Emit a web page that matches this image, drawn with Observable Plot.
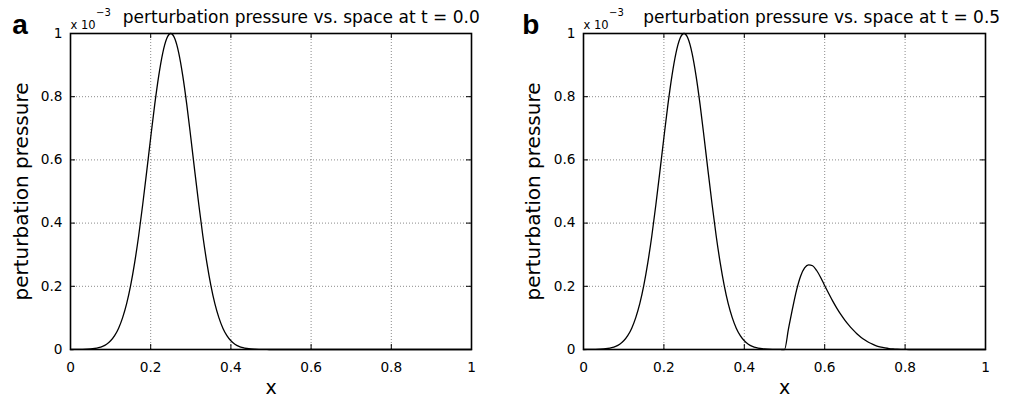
<!DOCTYPE html>
<html>
<head>
<meta charset="utf-8">
<script src="https://cdn.jsdelivr.net/npm/d3@7"></script>
<script src="https://cdn.jsdelivr.net/npm/@observablehq/plot@0.6"></script>
<style>
  html, body { margin: 0; padding: 0; background: #fff; }
  #wrap { position: relative; width: 1011px; height: 405px; overflow: hidden; }
  #wrap svg { position: absolute; top: 0; overflow: visible; }
</style>
</head>
<body>
<div id="wrap"></div>
<script>
// ---- data (perturbation pressure, units of 1e-3) ----
const xPos = [0,0.01,0.02,0.03,0.04,0.05,0.06,0.07,0.08,0.09,0.10,0.11,0.12,0.13,0.14,0.15,0.16,0.17,0.18,0.19,0.20,
  0.21,0.22,0.23,0.24,0.25,0.26,0.27,0.28,0.29,0.30,0.31,0.32,0.33,0.34,0.35,0.36,0.37,0.38,0.39,0.40,
  0.41,0.42,0.43,0.44,0.45,0.46,0.47,0.48,0.49,0.50,0.51,0.52,0.53,0.54,0.55,0.56,0.57,0.58,0.59,0.60,
  0.61,0.62,0.63,0.64,0.65,0.66,0.67,0.68,0.69,0.70,0.71,0.72,0.73,0.74,0.75,0.76,0.77,0.78,0.79,0.80,
  0.81,0.82,0.83,0.84,0.85,0.86,0.87,0.88,0.89,0.90,0.91,0.92,0.93,0.94,0.95,0.96,0.97,0.98,0.99,1.00];

const pressureT00 = [0,0.0001,0.0002,0.0004,0.0009,0.0017,0.0032,0.0057,0.0100,0.0169,0.0276,0.0439,0.0675,0.101,0.145,0.203,0.275,0.360,0.458,0.563,0.671,
  0.775,0.866,0.938,0.984,1.000,0.984,0.938,0.866,0.775,0.671,0.563,0.458,0.360,0.275,0.203,0.145,0.101,0.0675,0.0439,0.0276,
  0.0169,0.0100,0.0057,0.0032,0.0017,0.0009,0.0004,0.0002,0.0001,0,0,0,0,0,0,0,0,0,0,0,
  0,0,0,0,0,0,0,0,0,0,0,0,0,0,0,0,0,0,0,0,
  0,0,0,0,0,0,0,0,0,0,0,0,0,0,0,0,0,0,0,0];

const pressureT05 = [0,0.0001,0.0002,0.0004,0.0009,0.0017,0.0032,0.0057,0.0100,0.0169,0.0276,0.0439,0.0675,0.101,0.145,0.203,0.275,0.360,0.458,0.563,0.671,
  0.775,0.866,0.938,0.984,1.000,0.984,0.938,0.866,0.775,0.671,0.563,0.458,0.360,0.275,0.203,0.145,0.101,0.0675,0.0439,0.0276,
  0.0169,0.0100,0.0057,0.0032,0.0017,0.0009,0.0004,0.0002,0.0001,0,0.066,0.130,0.188,0.232,0.258,0.268,0.265,0.250,0.228,0.202,
  0.177,0.153,0.131,0.111,0.093,0.077,0.063,0.050,0.039,0.030,0.022,0.016,0.011,0.0075,0.005,0.003,0.0018,0.001,0.0005,0.0002,
  0,0,0,0,0,0,0,0,0,0,0,0,0,0,0,0,0,0,0,0];

const tickValues = [0, 0.2, 0.4, 0.6, 0.8, 1];
const tickLabels = ["0", "0.2", "0.4", "0.6", "0.8", "1"];
const gridValues = [0.2, 0.4, 0.6, 0.8];
const panelLetters = ["a", "b"];
const titles = ["perturbation pressure vs. space at t = 0.0", "perturbation pressure vs. space at t = 0.5"];
const xLabel = "x";
const yLabel = "perturbation pressure";
const expBase = "x 10";
const expPow = "\u22123";

function panel(values, idx, opts) {
  const data = xPos.map((x, i) => ({x, p: values[i]}));
  const fmt = d => tickLabels[tickValues.indexOf(d)] ?? String(d);
  const H = 405, mt = 33, mb = 56;
  const fh = H - mt - mb;                  // frame height
  const fw = opts.width - opts.ml - opts.mr; // frame width
  const tl = 5;                            // inward tick length
  return Plot.plot({
    width: opts.width,
    height: H,
    marginLeft: opts.ml,
    marginRight: opts.mr,
    marginTop: mt,
    marginBottom: mb,
    style: {fontFamily: "'DejaVu Sans', sans-serif", background: "transparent", overflow: "visible"},
    x: {domain: [0, 1]},
    y: {domain: [0, 1]},
    marks: [
      Plot.gridX(gridValues, {stroke: "#8a8a8a", strokeOpacity: 1, strokeWidth: 1, strokeDasharray: "1,2"}),
      Plot.gridY(gridValues, {stroke: "#8a8a8a", strokeOpacity: 1, strokeWidth: 1, strokeDasharray: "1,2"}),
      Plot.line(data, {x: "x", y: "p", stroke: "black", strokeWidth: 1.3, curve: "monotone-x"}),
      Plot.frame({stroke: "black", strokeWidth: 1.6}),
      Plot.tickX(tickValues, {x: d => d, insetTop: fh - tl, stroke: "black"}),
      Plot.tickX(tickValues, {x: d => d, insetBottom: fh - tl, stroke: "black"}),
      Plot.tickY(tickValues, {y: d => d, insetRight: fw - tl, stroke: "black"}),
      Plot.tickY(tickValues, {y: d => d, insetLeft: fw - tl, stroke: "black"}),
      Plot.axisX(tickValues, {anchor: "bottom", tickSize: 0, tickPadding: 13, tickFormat: fmt, fontSize: 13.7, label: null, fill: "black"}),
      Plot.axisY(tickValues, {anchor: "left", tickSize: 0, tickPadding: 8, tickFormat: fmt, fontSize: 13.7, label: null, fill: "black"}),
      Plot.text([xLabel], {frameAnchor: "bottom", dy: 44, fontSize: 19, fill: "black"}),
      Plot.text([yLabel], {frameAnchor: "left", dx: opts.ylx, rotate: -90, textAnchor: "middle", fontSize: 20, fill: "black"}),
      Plot.text([titles[idx]], {frameAnchor: "top-left", dx: opts.tdx, dy: -10.3, textAnchor: "start", lineAnchor: "bottom", fontSize: 17, fill: "black"}),
      Plot.text([expBase], {frameAnchor: "top-left", dx: 0, dy: -5, textAnchor: "start", lineAnchor: "bottom", fontSize: 11.5, fill: "black"}),
      Plot.text([expPow], {frameAnchor: "top-left", dx: 25.5, dy: -17.5, textAnchor: "start", lineAnchor: "bottom", fontSize: 10, fill: "black"}),
      Plot.text([panelLetters[idx]], {frameAnchor: "top-left", dx: opts.ldx, dy: 0, textAnchor: "start", lineAnchor: "bottom", fontSize: 28, fontWeight: "bold", fontFamily: "'Liberation Sans', Arial, sans-serif", fill: "black"})
    ]
  });
}

const wrap = document.getElementById("wrap");
const a = panel(pressureT00, 0, {width: 506, ml: 70, mr: 35, ylx: -49, tdx: 52.3, ldx: -58.3});
a.style.left = "0px";
wrap.appendChild(a);
const b = panel(pressureT05, 1, {width: 505, ml: 77, mr: 26, ylx: -50, tdx: 59.7, ldx: -61.3});
b.style.left = "506px";
wrap.appendChild(b);
</script>
</body>
</html>
